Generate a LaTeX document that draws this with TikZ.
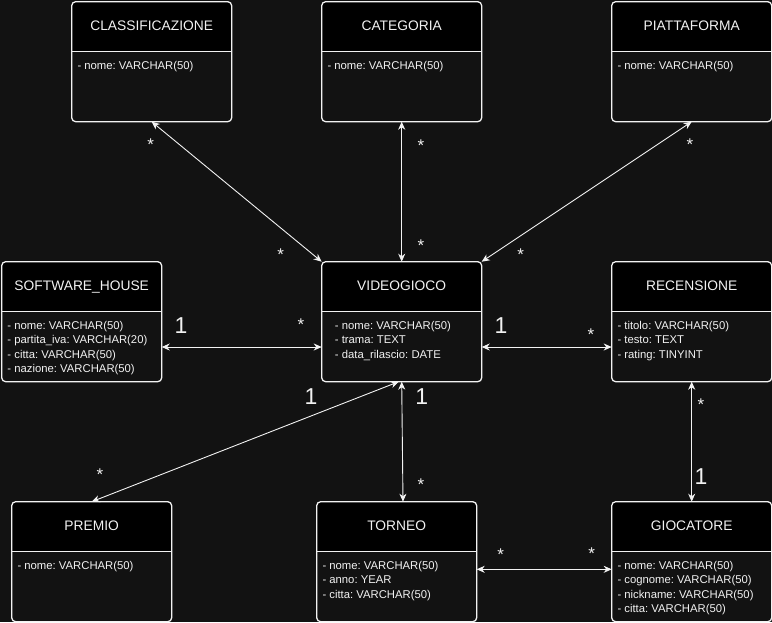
\documentclass[tikz,border=0pt]{standalone}
\usepackage{fontspec}
\setmainfont{Liberation Sans}
\usetikzlibrary{arrows.meta,calc}
\frenchspacing
\definecolor{canvas}{HTML}{121212}
\definecolor{ink}{HTML}{F2F2F2}
\tikzset{
  entbox/.style={minimum width=160pt, minimum height=120pt, inner sep=0pt, outer sep=0pt},
  entline/.style={draw=ink, line width=1.3pt},
  titletext/.style={text=ink, font=\fontsize{13.8}{16}\selectfont, inner sep=0pt},
  attrtext/.style={text=ink, font=\fontsize{11.3}{13}\selectfont, inner sep=0pt},
  conn/.style={draw=ink, line width=0.9pt, >={Stealth[length=8pt,width=7pt,inset=2.5pt]}, <->},
  mult/.style={text=ink, font=\fontsize{23}{23}\selectfont, inner sep=0pt, anchor=base},
  multstar/.style={text=ink, font=\fontsize{17}{17}\selectfont, inner sep=0pt, anchor=base},
}
% entity box: name, left, top, title, attribute lines, text indent
\newcommand\entity[6]{%
  \node[entbox, anchor=north west] (#1) at (#2,#3) {};
  \begin{scope}
    \clip[rounded corners=4pt] (#1.north west) rectangle (#1.south east);
    \fill[black] (#1.north west) rectangle ($(#1.north east)+(0,50)$);
  \end{scope}
  \draw[entline, rounded corners=4pt] (#1.north west) rectangle (#1.south east);
  \draw[entline] ($(#1.north west)+(0,50)$) -- ($(#1.north east)+(0,50)$);
  \node[titletext, anchor=base] (#1-title) at ($(#1.north)+(0,29.2)$) {#4};
  \foreach \atext [count=\i from 0] in {#5}
    \node[attrtext, anchor=base west] (#1-attr\i) at ($(#1.north west)+(#6,67.5+14.5*\i)$) {\atext};
}
% multiplicity marks, placed by visual centre
\newcommand\mone[3]{\node[mult] (#1) at (#2,#3+8.2) {1};}
\newcommand\mmany[3]{\node[multstar] (#1) at (#2,#3+9.9) {*};}
\begin{document}
\begin{tikzpicture}[x=1pt, y=-1pt]
  \fill[canvas] (0,0) rectangle (772,622);
  \useasboundingbox (0,0) rectangle (772,622);

  \entity{cls}{71.7}{1.7}{CLASSIFICAZIONE}{- nome: VARCHAR(50)}{5.6}
  \entity{cat}{321.7}{1.7}{CATEGORIA}{- nome: VARCHAR(50)}{5.6}
  \entity{pia}{611.7}{1.7}{PIATTAFORMA}{- nome: VARCHAR(50)}{5.6}
  \entity{sw}{1.7}{261.7}{SOFTWARE\_HOUSE}{- nome: VARCHAR(50), - partita\_iva: VARCHAR(20), - citta: VARCHAR(50), - nazione: VARCHAR(50)}{5.6}
  \entity{vg}{321.7}{261.7}{VIDEOGIOCO}{- nome: VARCHAR(50), - trama: TEXT, - data\_rilascio: DATE}{13}
  \entity{rec}{611.7}{261.7}{RECENSIONE}{- titolo: VARCHAR(50), - testo: TEXT, - rating: TINYINT}{5.6}
  \entity{prem}{11.7}{501.7}{PREMIO}{- nome: VARCHAR(50)}{5.6}
  \entity{tor}{316.7}{501.7}{TORNEO}{- nome: VARCHAR(50), - anno: YEAR, - citta: VARCHAR(50)}{5.6}
  \entity{gio}{611.7}{501.7}{GIOCATORE}{- nome: VARCHAR(50), - cognome: VARCHAR(50), - nickname: VARCHAR(50), - citta: VARCHAR(50)}{5.6}

  % relationships
  \draw[conn] (cls.south) -- (vg.north west);
  \draw[conn] (cat.south) -- (vg.north);
  \draw[conn] (pia.south) -- (vg.north east);
  \draw[conn] ([yshift=-25.3pt]sw.east) -- ([yshift=-25.3pt]vg.west);
  \draw[conn] ([yshift=-25.3pt]vg.east) -- ([yshift=-25.3pt]rec.west);
  \draw[conn] ([xshift=-3pt]vg.south) -- (prem.north);
  \draw[conn] (vg.south) -- ([xshift=6.3pt]tor.north);
  \draw[conn] (rec.south) -- (gio.north);
  \draw[conn] ([yshift=-7.6pt]tor.east) -- ([yshift=-7.6pt]gio.west);

  % multiplicities
  \mmany{m1}{150.7}{140.7}
  \mmany{m2}{280.7}{251}
  \mmany{m3}{421}{142}
  \mmany{m4}{421}{242}
  \mmany{m5}{690}{140.7}
  \mmany{m6}{520.7}{251}
  \mone{m7}{181}{325.7}
  \mmany{m8}{301}{321}
  \mone{m9}{501}{325.7}
  \mmany{m10}{591}{331}
  \mone{m11}{311}{396}
  \mmany{m12}{100}{471}
  \mone{m13}{421.7}{396}
  \mmany{m14}{421}{480.7}
  \mmany{m15}{701}{401}
  \mone{m16}{701}{476}
  \mmany{m17}{500.7}{551}
  \mmany{m18}{591.7}{550}
\end{tikzpicture}
\end{document}
